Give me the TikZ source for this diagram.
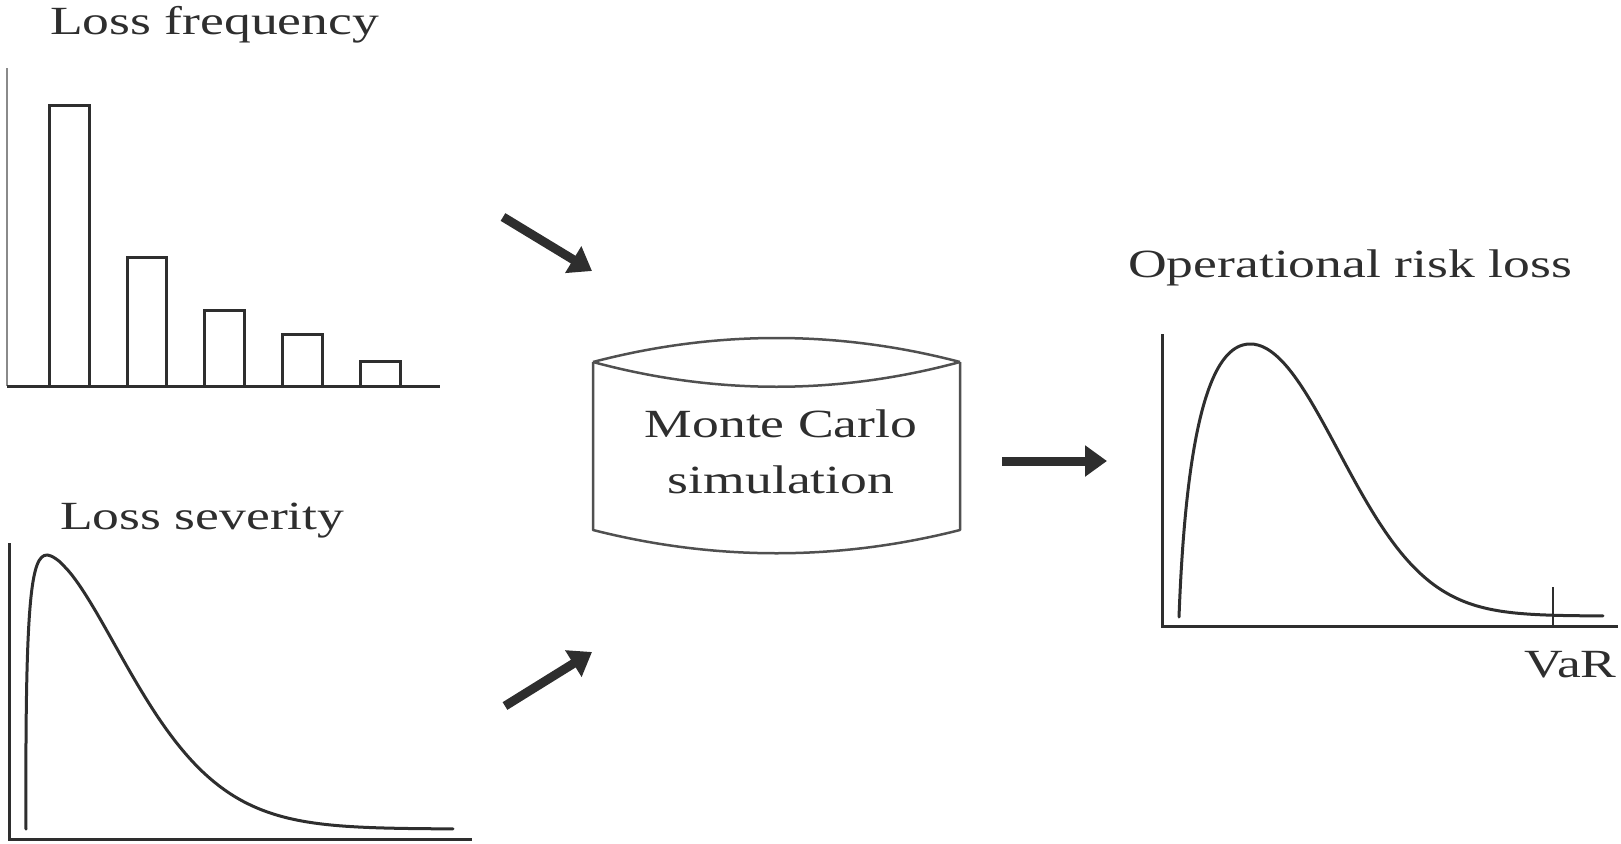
\documentclass[tikz,border=0pt]{standalone}
\usepackage{fontspec}
\setmainfont{Liberation Serif}[FakeStretch=1.34]
\usetikzlibrary{arrows.meta}
\definecolor{ink}{HTML}{2E2E2E}
\definecolor{axisgray}{HTML}{8A8A8A}
\definecolor{shell}{HTML}{505050}
\tikzset{
  label text/.style={font=\fontsize{40}{56}\selectfont, text=ink, inner sep=0pt},
  axis line/.style={draw=ink, line width=3pt},
  light axis/.style={draw=axisgray, line width=2.5pt},
  bar/.style={draw=ink, line width=3pt},
  density/.style={draw=ink, line width=3pt, line join=round, line cap=round},
  flow/.style={draw=ink, line width=9pt, -{Triangle[length=22pt,width=30pt]}},
  drum/.style={draw=shell, line width=2.5pt, line join=round},
}
\begin{document}
\begin{tikzpicture}[x=1pt, y=-1pt]
\useasboundingbox (0,0) rectangle (1621,843);

% ---- loss frequency histogram ----
\node[label text, anchor=base west] (freqtitle) at (50,35) {Loss frequency};
\draw[light axis] (7,68) -- (7,386);
\draw[axis line] (7,386) -- (440,386);
\draw[bar] (49,386) |- (89,105) -- (89,386);
\draw[bar] (127,386) |- (166,257) -- (166,386);
\draw[bar] (204,386) |- (244,310) -- (244,386);
\draw[bar] (282,386) |- (322,334) -- (322,386);
\draw[bar] (360,386) |- (400,361) -- (400,386);

% ---- loss severity density (steep rise, long right tail) ----
\node[label text, anchor=base west] (sevtitle) at (60,529) {Loss severity};
\draw[axis line] (9,543) -- (9,839) -- (472,839);
\draw[density] (26,829) .. controls (25,600) and (31,555) .. (47,555)
  -- plot[domain=47.5:453, samples=100, smooth] (\x, {829-274*exp(-(((\x-47)/118.6)^1.65))});

% ---- Monte Carlo drum ----
\draw[drum] (593,362) .. controls (715,330) and (838,330) .. (960,362);
\draw[drum] (593,362) .. controls (715,395) and (838,395) .. (960,362);
\draw[drum] (593,362) -- (593,530) .. controls (715,561) and (838,561) .. (960,530) -- (960,362);
\node[label text, align=center, anchor=base] (mc) at (781,493) {Monte Carlo\\simulation};

% ---- flow arrows ----
\coordinate (freqout) at (503,217);
\coordinate (mcin1) at (592,271);
\coordinate (sevout) at (505,706);
\coordinate (mcin2) at (592,652);
\coordinate (mcout) at (1002,461);
\coordinate (opin) at (1107,461);
\draw[flow] (freqout) -- (mcin1);
\draw[flow] (sevout) -- (mcin2);
\draw[flow] (mcout) -- (opin);

% ---- operational risk loss density ----
\node[label text, anchor=base west] (optitle) at (1128,277) {Operational risk loss};
\draw[axis line] (1162,334) -- (1162,626) -- (1618,626);
\draw[density] (1179,617) .. controls (1186,430) and (1210,344) .. (1250,344)
  -- plot[domain=1250:1603, samples=90, smooth] (\x, {616-272*exp(-((\x-1250)/125)^2)});
\draw[draw=ink, line width=2pt] (1553,587) -- (1553,626);
\node[label text, anchor=base west] (var) at (1524,677) {VaR};
\end{tikzpicture}
\end{document}
